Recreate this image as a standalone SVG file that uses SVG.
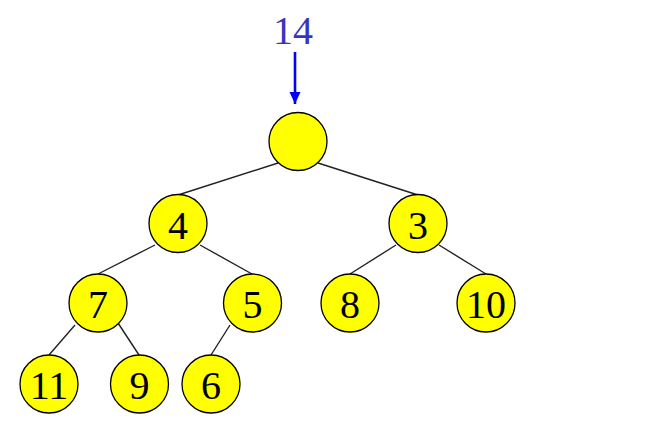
<svg xmlns="http://www.w3.org/2000/svg" width="659" height="423" viewBox="0 0 659 423">
  <style>
    .node circle { fill: #ffff00; stroke: #000; stroke-width: 1.3; }
    .node text { font-family: "Liberation Serif", "Times New Roman", serif; font-size: 40px; fill: #000; text-anchor: middle; }
    .edges line { stroke: #222; stroke-width: 1.4; }
    .incoming { font-family: "Liberation Serif", "Times New Roman", serif; font-size: 40px; fill: #3535c0; text-anchor: middle; }
  </style>
  <defs>
    <marker id="arrow" viewBox="0 0 12 12" refX="12" refY="6" markerWidth="12" markerHeight="12" markerUnits="userSpaceOnUse" orient="auto">
      <path d="M0,0.5 L12,6 L0,11.5 z" fill="#0000ff"/>
    </marker>
  </defs>

  <rect width="659" height="423" fill="#fff"/>

  <!-- value being inserted at the root -->
  <g id="incoming">
    <text class="incoming" x="293" y="44">14</text>
    <line x1="295" y1="52" x2="295" y2="104" stroke="#0000ff" stroke-width="2.6" marker-end="url(#arrow)"/>
  </g>

  <g class="edges" id="edges">
    <line x1="278" y1="163" x2="178" y2="195"/>
    <line x1="318" y1="163" x2="418" y2="195"/>
    <line x1="155" y1="245" x2="98" y2="274"/>
    <line x1="200" y1="245" x2="252" y2="274"/>
    <line x1="396" y1="245" x2="350" y2="274"/>
    <line x1="439" y1="245" x2="486" y2="274"/>
    <line x1="75" y1="325" x2="49" y2="355"/>
    <line x1="118" y1="323" x2="139" y2="355"/>
    <line x1="230" y1="325" x2="211" y2="355"/>
  </g>

  <g class="node" id="n-root"><circle cx="298" cy="141.5" r="29"/></g>
  <g class="node" id="n4"><circle cx="178" cy="223.5" r="29"/><text x="178" y="238.5">4</text></g>
  <g class="node" id="n3"><circle cx="418" cy="223.5" r="29"/><text x="418" y="238.5">3</text></g>
  <g class="node" id="n7"><circle cx="98" cy="303" r="29"/><text x="98" y="318">7</text></g>
  <g class="node" id="n5"><circle cx="252.5" cy="303" r="29"/><text x="252.5" y="318">5</text></g>
  <g class="node" id="n8"><circle cx="350" cy="303" r="29"/><text x="350" y="318">8</text></g>
  <g class="node" id="n10"><circle cx="486" cy="303" r="29"/><text x="486" y="318">10</text></g>
  <g class="node" id="n11"><circle cx="49" cy="384" r="29"/><text x="49" y="399">11</text></g>
  <g class="node" id="n9"><circle cx="139.5" cy="384" r="29"/><text x="139.5" y="399">9</text></g>
  <g class="node" id="n6"><circle cx="211" cy="384" r="29"/><text x="211" y="399">6</text></g>
</svg>
